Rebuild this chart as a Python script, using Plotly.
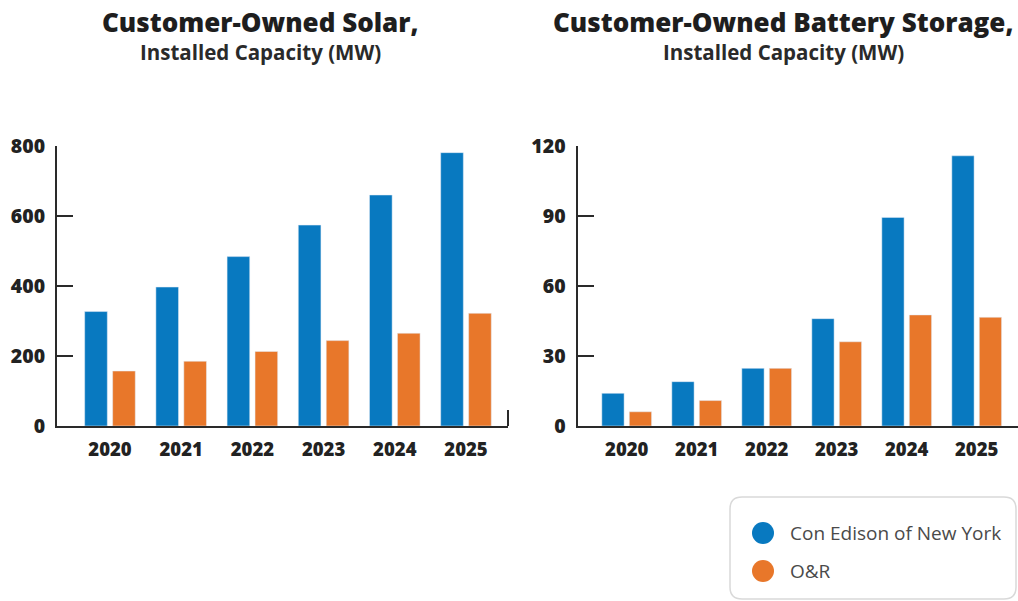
import plotly.graph_objects as go

years = ["2020", "2021", "2022", "2023", "2024", "2025"]
series_names = ["Con Edison of New York", "O&R"]
solar_coned = [327, 397, 484, 574, 660, 781]
solar_or = [157, 185, 213, 244, 265, 322]
battery_coned = [14, 19, 24.7, 46, 89.4, 115.8]
battery_or = [6.1, 10.9, 24.7, 36.1, 47.6, 46.6]
solar_ticks = [0, 200, 400, 600, 800]
battery_ticks = [0, 30, 60, 90, 120]
titles = ["Customer-Owned Solar,", "Customer-Owned Battery Storage,"]
subtitle = "Installed Capacity (MW)"

W, H = 1018, 601
BLUE = "#0879C0"
ORANGE = "#E8772A"
AXIS = "#2a2a2a"

def px(x):
    return x / W

def py(y):
    return (H - y) / H

fig = go.Figure()
fig.add_trace(go.Bar(x=years, y=solar_coned, name=series_names[0], marker_color=BLUE,
                     xaxis="x", yaxis="y", showlegend=False))
fig.add_trace(go.Bar(x=years, y=solar_or, name=series_names[1], marker_color=ORANGE,
                     xaxis="x", yaxis="y", showlegend=False))
fig.add_trace(go.Bar(x=years, y=battery_coned, name=series_names[0], marker_color=BLUE,
                     xaxis="x2", yaxis="y2", showlegend=False))
fig.add_trace(go.Bar(x=years, y=battery_or, name=series_names[1], marker_color=ORANGE,
                     xaxis="x2", yaxis="y2", showlegend=False))

xtickfont = dict(family="Open Sans", size=18.5, color="#222222", weight=800)
ytickfont = dict(family="Open Sans", size=19.5, color="#222222", weight=800)
ydom = [py(426), py(146)]

xcommon = dict(type="category", showline=True, linecolor=AXIS, linewidth=2, ticks="",
               showgrid=False, zeroline=False, tickfont=xtickfont, fixedrange=True,
               ticklabelstandoff=6, automargin=False)
ycommon = dict(showline=True, linecolor=AXIS, linewidth=2, ticks="inside", ticklen=16,
               tickwidth=2, tickcolor=AXIS, showgrid=False, zeroline=False,
               tickfont=ytickfont, fixedrange=True, ticklabelstandoff=6, automargin=False)

fig.update_layout(
    width=W, height=H, autosize=False,
    margin=dict(l=0, r=0, t=0, b=0, pad=0, autoexpand=False),
    paper_bgcolor="white", plot_bgcolor="white",
    barmode="group", bargap=0.215, bargroupgap=0.19,
    showlegend=False,
    xaxis=dict(domain=[px(57), px(508)], range=[-0.744, 5.59], anchor="y", **xcommon),
    yaxis=dict(domain=ydom, range=[0, 800], tickvals=solar_ticks, anchor="x", **ycommon),
    xaxis2=dict(domain=[px(577.5), 1.0], range=[-0.703, 5.59], anchor="y2", **xcommon),
    yaxis2=dict(domain=ydom, range=[0, 120], tickvals=battery_ticks, anchor="x2", **ycommon),
)

# titles
for cx, t in zip([260, 783], titles):
    fig.add_annotation(text=t, x=px(cx), y=py(22), xref="paper", yref="paper",
                       xanchor="center", yanchor="middle", showarrow=False,
                       font=dict(family="Open Sans", size=26, color="#1e1e1e", weight=800))
    fig.add_annotation(text=subtitle, x=px(cx), y=py(52), xref="paper", yref="paper",
                       xanchor="center", yanchor="middle", showarrow=False,
                       font=dict(family="Open Sans", size=20.5, color="#2a2a2a", weight=700))

# small end tick on the left chart's x axis
fig.add_shape(type="line", xref="x domain", yref="y domain", x0=1, x1=1, y0=0, y1=16 / 280,
              line=dict(color=AXIS, width=2))

# legend box (rounded)
x0, x1 = px(730), px(1016)
yt, yb = py(497), py(599)
rx, ry = 12 / W, 12 / H
path = (f"M {x0+rx},{yt} L {x1-rx},{yt} Q {x1},{yt} {x1},{yt-ry} "
        f"L {x1},{yb+ry} Q {x1},{yb} {x1-rx},{yb} L {x0+rx},{yb} "
        f"Q {x0},{yb} {x0},{yb+ry} L {x0},{yt-ry} Q {x0},{yt} {x0+rx},{yt} Z")
fig.add_shape(type="path", path=path, xref="paper", yref="paper",
              line=dict(color="#d9d9d9", width=1.5), fillcolor="rgba(0,0,0,0)")

for cy, name, col in zip([533, 571], series_names, [BLUE, ORANGE]):
    r = 11
    fig.add_shape(type="circle", xref="paper", yref="paper",
                  x0=px(763 - r), x1=px(763 + r), y0=py(cy + r), y1=py(cy - r),
                  fillcolor=col, line=dict(width=0))
    fig.add_annotation(text=name, x=px(788), y=py(cy), xref="paper", yref="paper",
                       xanchor="left", yanchor="middle", showarrow=False,
                       font=dict(family="Open Sans", size=19, color="#4a4a4a"))

fig.write_html(
    "out.html",
    config={"displayModeBar": False},
    post_script="document.body.style.margin='0';document.body.style.overflow='hidden';",
)
